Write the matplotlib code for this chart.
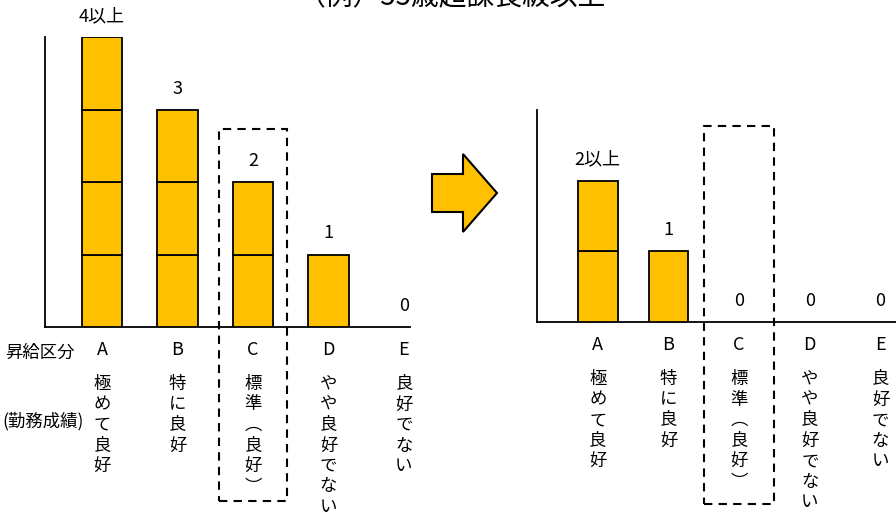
import matplotlib.pyplot as plt
from matplotlib.patches import Polygon, Rectangle

plt.rcParams['font.family'] = ['Noto Sans CJK JP', 'DejaVu Sans']

# データ
title = "（例）55歳超課長級以上"
grades = ["A", "B", "C", "D", "E"]
grade_names = ["極めて良好", "特に良好", "標準︵良好︶", "やや良好でない", "良好でない"]
before_values = [4, 3, 2, 1, 0]
before_labels = ["4以上", "3", "2", "1", "0"]
after_values = [2, 1, 0, 0, 0]
after_labels = ["2以上", "1", "0", "0", "0"]
row_label_top = "昇給区分"
row_label_bottom = "(勤務成績)"

W, H = 896, 512
YELLOW = "#FFC000"

fig = plt.figure(figsize=(W / 100, H / 100), dpi=100)


def px(x, y):
    # ピクセル座標 -> figure座標
    return x / W, 1 - y / H


def make_axes(left, top, right, bottom):
    ax = fig.add_axes([left / W, 1 - bottom / H, (right - left) / W, (bottom - top) / H])
    for s in ["top", "right"]:
        ax.spines[s].set_visible(False)
    for s in ["left", "bottom"]:
        ax.spines[s].set_linewidth(1.3)
    ax.set_xticks([])
    ax.set_yticks([])
    ax.patch.set_alpha(0)
    return ax


def draw_panel(ax, values, labels, xlim, ylim, px_per_unit, box_top, box_bottom, box_w, bar_w):
    ax.set_xlim(*xlim)
    ax.set_ylim(*ylim)
    # 積み上げ（1単位ずつの箱）
    for i, v in enumerate(values):
        for k in range(v):
            ax.bar(i, 1, bottom=k, width=bar_w, color=YELLOW, edgecolor="black",
                   linewidth=1.3, zorder=3)
        ax.text(i, v + 21 / px_per_unit, labels[i], ha="center", va="center",
                fontsize=13, clip_on=False)
    # 区分と成績（縦書き）
    for i, (g, name) in enumerate(zip(grades, grade_names)):
        ax.text(i, -23 / px_per_unit, g, ha="center", va="center", fontsize=13,
                clip_on=False)
        for j, ch in enumerate(name):
            ax.text(i, -(57 + j * 20.5) / px_per_unit, ch, ha="center", va="center",
                    fontsize=12.5, clip_on=False)
    # 標準（C）を囲む破線枠
    c = grades.index("C")
    ax.add_patch(Rectangle((c - box_w / 2, box_bottom), box_w, box_top - box_bottom,
                           fill=False, edgecolor="black", linestyle=(0, (4, 3)),
                           linewidth=1.5, clip_on=False, zorder=4))


# 左（現行）
ax1 = make_axes(45, 37, 410, 327)
draw_panel(ax1, before_values, before_labels, (-0.755, 4.08), (0, 4), 72.5,
           box_top=2.73, box_bottom=-2.40, box_w=0.89, bar_w=0.54)

# 右（見直し後）
ax2 = make_axes(537, 110, 896, 322)
draw_panel(ax2, after_values, after_labels, (-0.86, 4.22), (0, 3), 70.6,
           box_top=2.77, box_bottom=-2.57, box_w=0.98, bar_w=0.56)

# 行ラベル
fig.text(*px(40, 353), row_label_top, ha="center", va="center", fontsize=12.5)
fig.text(*px(43, 421), row_label_bottom, ha="center", va="center", fontsize=12.5)

# 矢印
arrow_pts = [(432, 174), (463, 174), (463, 154), (497, 193), (463, 232), (463, 212), (432, 212)]
fig.patches.append(Polygon([px(x, y) for x, y in arrow_pts], closed=True,
                           facecolor=YELLOW, edgecolor="black", linewidth=1.5,
                           transform=fig.transFigure, figure=fig))

# タイトル（上端で切れている）
fig.text(*px(452, 5), title, ha="center", va="baseline", fontsize=20)

fig.savefig("out.png", dpi=100)
